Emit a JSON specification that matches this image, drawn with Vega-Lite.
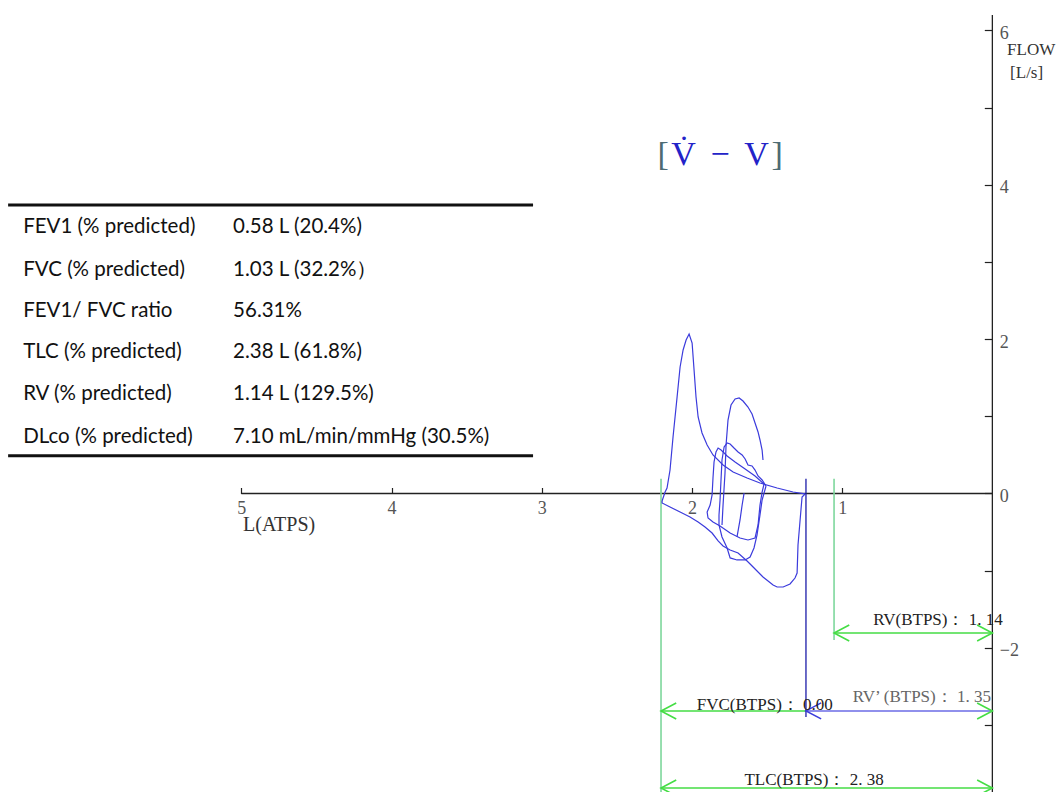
{
  "$schema": "https://vega.github.io/schema/vega-lite/v6.json",
  "width": 1061,
  "height": 792,
  "padding": 0,
  "autosize": {"type": "none"},
  "background": "white",
  "config": {"view": {"stroke": null}},
  "encoding": {
    "x": {
      "field": "v", "type": "quantitative",
      "scale": {"domain": [-0.457, 6.607], "reverse": true, "nice": false, "zero": false},
      "axis": {
        "orient": "bottom", "offset": -298.5, "values": [1, 2, 3, 4, 5], "format": "d",
        "domain": false, "grid": false, "title": null,
        "tickSize": -6, "tickColor": "#222", "tickWidth": 1.2,
        "labelPadding": 12, "labelFont": "Liberation Serif", "labelFontSize": 18,
        "labelColor": "#555", "labelFlush": false, "labelOverlap": false
      }
    },
    "y": {
      "field": "f", "type": "quantitative",
      "scale": {"domain": [-3.867, 6.393], "nice": false, "zero": false},
      "axis": {
        "orient": "right", "offset": -68.7, "values": [-3, -2, -1, 0, 1, 2, 3, 4, 5, 6], "format": "d",
        "domain": false, "grid": false, "title": null,
        "tickSize": -8, "tickColor": "#222", "tickWidth": 1.2,
        "labelPadding": 15, "labelOffset": 3, "labelFont": "Liberation Serif", "labelFontSize": 18,
        "labelColor": "#555", "labelFlush": false, "labelOverlap": false,
        "labelExpr": "datum.value % 2 === 0 ? datum.label : ''"
      }
    }
  },
  "layer": [
    {
      "data": {"values": [
        {"v": 5, "v2": 0, "f": 0, "f2": 0},
        {"v": 0, "v2": 0, "f": 6.198, "f2": -3.867}
      ]},
      "mark": {"type": "rule", "color": "#222222", "strokeWidth": 1.3},
      "encoding": {"x2": {"field": "v2"}, "y2": {"field": "f2"}}
    },
    {
      "data": {"values": [
        {"v": 6.553, "v2": 3.058, "f": 3.737, "f2": 3.737},
        {"v": 6.553, "v2": 3.058, "f": 0.489, "f2": 0.489}
      ]},
      "mark": {"type": "rule", "color": "#111111", "strokeWidth": 3.2},
      "encoding": {"x2": {"field": "v2"}, "y2": {"field": "f2"}}
    },
    {
      "data": {"values": [
        {"v": 2.206, "v2": 2.206, "f": 0.19, "f2": -3.867},
        {"v": 1.054, "v2": 1.054, "f": 0.19, "f2": -1.898}
      ]},
      "mark": {"type": "rule", "color": "#7ed79c", "strokeWidth": 1.6},
      "encoding": {"x2": {"field": "v2"}, "y2": {"field": "f2"}}
    },
    {
      "data": {"values": [
        {"v": 1.054, "v2": 0, "f": -1.807, "f2": -1.807},
        {"v": 2.206, "v2": 1.241, "f": -2.817, "f2": -2.817},
        {"v": 2.206, "v2": 0, "f": -3.815, "f2": -3.815}
      ]},
      "mark": {"type": "rule", "color": "#44dd44", "strokeWidth": 1.6},
      "encoding": {"x2": {"field": "v2"}, "y2": {"field": "f2"}}
    },
    {
      "data": {"values": [
        {"v": 1.241, "v2": 1.241, "f": 0.19, "f2": -2.895}
      ]},
      "mark": {"type": "rule", "color": "#1c1ca8", "strokeWidth": 1.3},
      "encoding": {"x2": {"field": "v2"}, "y2": {"field": "f2"}}
    },
    {
      "data": {"values": [
        {"v": 1.241, "v2": 0, "f": -2.817, "f2": -2.817}
      ]},
      "mark": {"type": "rule", "color": "#6b6be6", "strokeWidth": 1.5},
      "encoding": {"x2": {"field": "v2"}, "y2": {"field": "f2"}}
    },
    {
      "data": {"values": [
        {"seg": "fe", "ord": 1, "v": 2.199, "f": -0.097},
        {"seg": "fe", "ord": 2, "v": 2.179, "f": 0.019},
        {"seg": "fe", "ord": 3, "v": 2.166, "f": 0.071},
        {"seg": "fe", "ord": 4, "v": 2.146, "f": 0.304},
        {"seg": "fe", "ord": 5, "v": 2.126, "f": 0.732},
        {"seg": "fe", "ord": 6, "v": 2.099, "f": 1.25},
        {"seg": "fe", "ord": 7, "v": 2.079, "f": 1.639},
        {"seg": "fe", "ord": 8, "v": 2.059, "f": 1.859},
        {"seg": "fe", "ord": 9, "v": 2.039, "f": 1.988},
        {"seg": "fe", "ord": 10, "v": 2.019, "f": 2.066},
        {"seg": "fe", "ord": 11, "v": 1.999, "f": 1.949},
        {"seg": "fe", "ord": 12, "v": 1.986, "f": 1.6},
        {"seg": "fe", "ord": 13, "v": 1.973, "f": 1.25},
        {"seg": "fe", "ord": 14, "v": 1.959, "f": 0.991},
        {"seg": "fe", "ord": 15, "v": 1.933, "f": 0.784},
        {"seg": "fe", "ord": 16, "v": 1.899, "f": 0.628},
        {"seg": "fe", "ord": 17, "v": 1.86, "f": 0.499},
        {"seg": "fe", "ord": 18, "v": 1.793, "f": 0.369},
        {"seg": "fe", "ord": 19, "v": 1.726, "f": 0.278},
        {"seg": "fe", "ord": 20, "v": 1.633, "f": 0.201},
        {"seg": "fe", "ord": 21, "v": 1.547, "f": 0.136},
        {"seg": "fe", "ord": 22, "v": 1.433, "f": 0.071},
        {"seg": "fe", "ord": 23, "v": 1.327, "f": 0.019},
        {"seg": "fe", "ord": 24, "v": 1.247, "f": -0.006},
        {"seg": "in", "ord": 1, "v": 1.247, "f": -0.006},
        {"seg": "in", "ord": 2, "v": 1.267, "f": -0.045},
        {"seg": "in", "ord": 3, "v": 1.28, "f": -0.343},
        {"seg": "in", "ord": 4, "v": 1.294, "f": -0.667},
        {"seg": "in", "ord": 5, "v": 1.3, "f": -1.03},
        {"seg": "in", "ord": 6, "v": 1.314, "f": -1.095},
        {"seg": "in", "ord": 7, "v": 1.347, "f": -1.172},
        {"seg": "in", "ord": 8, "v": 1.393, "f": -1.211},
        {"seg": "in", "ord": 9, "v": 1.433, "f": -1.211},
        {"seg": "in", "ord": 10, "v": 1.46, "f": -1.185},
        {"seg": "in", "ord": 11, "v": 1.527, "f": -1.082},
        {"seg": "in", "ord": 12, "v": 1.593, "f": -0.952},
        {"seg": "in", "ord": 13, "v": 1.633, "f": -0.874},
        {"seg": "in", "ord": 14, "v": 1.693, "f": -0.771},
        {"seg": "in", "ord": 15, "v": 1.746, "f": -0.732},
        {"seg": "in", "ord": 16, "v": 1.793, "f": -0.68},
        {"seg": "in", "ord": 17, "v": 1.826, "f": -0.615},
        {"seg": "in", "ord": 18, "v": 1.866, "f": -0.512},
        {"seg": "in", "ord": 19, "v": 1.913, "f": -0.434},
        {"seg": "in", "ord": 20, "v": 1.959, "f": -0.369},
        {"seg": "in", "ord": 21, "v": 2.013, "f": -0.304},
        {"seg": "in", "ord": 22, "v": 2.079, "f": -0.24},
        {"seg": "in", "ord": 23, "v": 2.146, "f": -0.175},
        {"seg": "in", "ord": 24, "v": 2.199, "f": -0.123},
        {"seg": "in", "ord": 25, "v": 2.199, "f": -0.097},
        {"seg": "t1", "ord": 1, "v": 1.52, "f": 0.123},
        {"seg": "t1", "ord": 2, "v": 1.58, "f": 0.227},
        {"seg": "t1", "ord": 3, "v": 1.646, "f": 0.317},
        {"seg": "t1", "ord": 4, "v": 1.713, "f": 0.408},
        {"seg": "t1", "ord": 5, "v": 1.766, "f": 0.486},
        {"seg": "t1", "ord": 6, "v": 1.806, "f": 0.563},
        {"seg": "t1", "ord": 7, "v": 1.826, "f": 0.589},
        {"seg": "t1", "ord": 8, "v": 1.84, "f": 0.538},
        {"seg": "t1", "ord": 9, "v": 1.853, "f": 0.408},
        {"seg": "t1", "ord": 10, "v": 1.86, "f": 0.201},
        {"seg": "t1", "ord": 11, "v": 1.866, "f": -0.019},
        {"seg": "t1", "ord": 12, "v": 1.879, "f": -0.149},
        {"seg": "t1", "ord": 13, "v": 1.899, "f": -0.24},
        {"seg": "t1", "ord": 14, "v": 1.893, "f": -0.317},
        {"seg": "t1", "ord": 15, "v": 1.86, "f": -0.369},
        {"seg": "t1", "ord": 16, "v": 1.813, "f": -0.421},
        {"seg": "t1", "ord": 17, "v": 1.746, "f": -0.512},
        {"seg": "t1", "ord": 18, "v": 1.68, "f": -0.576},
        {"seg": "t1", "ord": 19, "v": 1.627, "f": -0.602},
        {"seg": "t1", "ord": 20, "v": 1.58, "f": -0.576},
        {"seg": "t1", "ord": 21, "v": 1.56, "f": -0.408},
        {"seg": "t1", "ord": 22, "v": 1.547, "f": -0.149},
        {"seg": "t1", "ord": 23, "v": 1.533, "f": 0.019},
        {"seg": "t1", "ord": 24, "v": 1.52, "f": 0.123},
        {"seg": "t2", "ord": 1, "v": 1.507, "f": 0.097},
        {"seg": "t2", "ord": 2, "v": 1.533, "f": 0.175},
        {"seg": "t2", "ord": 3, "v": 1.56, "f": 0.227},
        {"seg": "t2", "ord": 4, "v": 1.58, "f": 0.304},
        {"seg": "t2", "ord": 5, "v": 1.6, "f": 0.356},
        {"seg": "t2", "ord": 6, "v": 1.627, "f": 0.369},
        {"seg": "t2", "ord": 7, "v": 1.646, "f": 0.447},
        {"seg": "t2", "ord": 8, "v": 1.666, "f": 0.499},
        {"seg": "t2", "ord": 9, "v": 1.693, "f": 0.538},
        {"seg": "t2", "ord": 10, "v": 1.72, "f": 0.589},
        {"seg": "t2", "ord": 11, "v": 1.746, "f": 0.641},
        {"seg": "t2", "ord": 12, "v": 1.766, "f": 0.654},
        {"seg": "t2", "ord": 13, "v": 1.786, "f": 0.602},
        {"seg": "t2", "ord": 14, "v": 1.8, "f": 0.434},
        {"seg": "t2", "ord": 15, "v": 1.806, "f": 0.201},
        {"seg": "t2", "ord": 16, "v": 1.813, "f": -0.084},
        {"seg": "t2", "ord": 17, "v": 1.82, "f": -0.278},
        {"seg": "t2", "ord": 18, "v": 1.82, "f": -0.408},
        {"seg": "t2", "ord": 19, "v": 1.8, "f": -0.563},
        {"seg": "t2", "ord": 20, "v": 1.766, "f": -0.706},
        {"seg": "t2", "ord": 21, "v": 1.746, "f": -0.835},
        {"seg": "t2", "ord": 22, "v": 1.7, "f": -0.861},
        {"seg": "t2", "ord": 23, "v": 1.646, "f": -0.861},
        {"seg": "t2", "ord": 24, "v": 1.613, "f": -0.823},
        {"seg": "t2", "ord": 25, "v": 1.587, "f": -0.706},
        {"seg": "t2", "ord": 26, "v": 1.567, "f": -0.538},
        {"seg": "t2", "ord": 27, "v": 1.547, "f": -0.278},
        {"seg": "t2", "ord": 28, "v": 1.533, "f": -0.084},
        {"seg": "t2", "ord": 29, "v": 1.507, "f": 0.097},
        {"seg": "t3", "ord": 1, "v": 1.8, "f": -0.408},
        {"seg": "t3", "ord": 2, "v": 1.793, "f": -0.149},
        {"seg": "t3", "ord": 3, "v": 1.78, "f": 0.266},
        {"seg": "t3", "ord": 4, "v": 1.773, "f": 0.628},
        {"seg": "t3", "ord": 5, "v": 1.76, "f": 0.952},
        {"seg": "t3", "ord": 6, "v": 1.74, "f": 1.146},
        {"seg": "t3", "ord": 7, "v": 1.713, "f": 1.224},
        {"seg": "t3", "ord": 8, "v": 1.686, "f": 1.237},
        {"seg": "t3", "ord": 9, "v": 1.66, "f": 1.198},
        {"seg": "t3", "ord": 10, "v": 1.627, "f": 1.12},
        {"seg": "t3", "ord": 11, "v": 1.6, "f": 1.03},
        {"seg": "t3", "ord": 12, "v": 1.58, "f": 0.913},
        {"seg": "t3", "ord": 13, "v": 1.56, "f": 0.797},
        {"seg": "t3", "ord": 14, "v": 1.547, "f": 0.693},
        {"seg": "t3", "ord": 15, "v": 1.533, "f": 0.563},
        {"seg": "t3", "ord": 16, "v": 1.527, "f": 0.434},
        {"seg": "t4", "ord": 1, "v": 1.653, "f": 0.006},
        {"seg": "t4", "ord": 2, "v": 1.666, "f": -0.149},
        {"seg": "t4", "ord": 3, "v": 1.68, "f": -0.343},
        {"seg": "t4", "ord": 4, "v": 1.7, "f": -0.563}
      ]},
      "mark": {"type": "line", "color": "#3b3bdc", "strokeWidth": 1.2},
      "encoding": {
        "detail": {"field": "seg", "type": "nominal"},
        "order": {"field": "ord", "type": "quantitative"}
      }
    },
    {
      "data": {"values": [
        {"v": 1.054, "f": -1.807, "dir": "L"},
        {"v": 0, "f": -1.807, "dir": "R"},
        {"v": 2.206, "f": -2.817, "dir": "L"},
        {"v": 0, "f": -2.817, "dir": "R"},
        {"v": 2.206, "f": -3.815, "dir": "L"},
        {"v": 0, "f": -3.815, "dir": "R"}
      ]},
      "mark": {"type": "point", "filled": false, "stroke": "#44dd44", "strokeWidth": 1.6, "size": 256, "opacity": 1},
      "encoding": {
        "shape": {"field": "dir", "type": "nominal", "legend": null,
          "scale": {"domain": ["L", "R"], "range": ["M1.9,-1L0,0L1.9,1", "M-1.9,-1L0,0L-1.9,1"]}}
      }
    },
    {
      "data": {"values": [{"v": 1.241, "f": -2.817}]},
      "mark": {"type": "point", "filled": false, "stroke": "#3b3bdc", "strokeWidth": 1.5, "size": 256, "opacity": 1, "shape": "M1.9,-1L0,0L1.9,1"}
    },
    {
      "data": {"values": [
        {"t": "FEV1 (% predicted)", "v": 6.453, "f": 3.452},
        {"t": "FVC (% predicted)", "v": 6.453, "f": 2.895},
        {"t": "FEV1/ FVC ratio", "v": 6.453, "f": 2.364},
        {"t": "TLC (% predicted)", "v": 6.453, "f": 1.833},
        {"t": "RV (% predicted)", "v": 6.453, "f": 1.289},
        {"t": "DLco (% predicted)", "v": 6.453, "f": 0.732},
        {"t": "0.58 L (20.4%)", "v": 5.055, "f": 3.452},
        {"t": "1.03 L (32.2%）", "v": 5.055, "f": 2.895},
        {"t": "56.31%", "v": 5.055, "f": 2.364},
        {"t": "2.38 L (61.8%)", "v": 5.055, "f": 1.833},
        {"t": "1.14 L (129.5%)", "v": 5.055, "f": 1.289},
        {"t": "7.10 mL/min/mmHg (30.5%)", "v": 5.055, "f": 0.732}
      ]},
      "mark": {"type": "text", "align": "left", "baseline": "middle", "font": "Lato", "fontSize": 20.5, "color": "#111111"},
      "encoding": {"text": {"field": "t"}}
    },
    {
      "data": {"values": [
        {"t": "RV(BTPS)： 1. 14", "v": 0.362, "f": -1.639},
        {"t": "FVC(BTPS)： 0.00", "v": 1.515, "f": -2.74},
        {"t": "TLC(BTPS)： 2. 38", "v": 1.187, "f": -3.711}
      ]},
      "mark": {"type": "text", "align": "center", "baseline": "middle", "font": "Liberation Serif", "fontSize": 17, "color": "#222222"},
      "encoding": {"text": {"field": "t"}}
    },
    {
      "data": {"values": [
        {"t": "RV’ (BTPS)： 1. 35", "v": 0.469, "f": -2.636}
      ]},
      "mark": {"type": "text", "align": "center", "baseline": "middle", "font": "Liberation Serif", "fontSize": 17, "color": "#666666"},
      "encoding": {"text": {"field": "t"}}
    },
    {
      "data": {"values": [
        {"t": "L(ATPS)", "v": 4.989, "f": -0.408}
      ]},
      "mark": {"type": "text", "align": "left", "baseline": "middle", "font": "Liberation Serif", "fontSize": 20, "color": "#333333"},
      "encoding": {"text": {"field": "t"}}
    },
    {
      "data": {"values": [
        {"t": "FLOW", "v": -0.098, "f": 5.745},
        {"t": "[L/s]", "v": -0.118, "f": 5.447}
      ]},
      "mark": {"type": "text", "align": "left", "baseline": "middle", "font": "Liberation Serif", "fontSize": 17, "color": "#333333"},
      "encoding": {"text": {"field": "t"}}
    },
    {
      "data": {"values": [
        {"t": "[", "v": 2.192, "f": 4.385},
        {"t": "]", "v": 1.433, "f": 4.385}
      ]},
      "mark": {"type": "text", "align": "center", "baseline": "middle", "font": "Liberation Serif", "fontSize": 34, "color": "#4d6b73"},
      "encoding": {"text": {"field": "t"}}
    },
    {
      "data": {"values": [
        {"t": "V\u0307 \u2009\u2212\u2009 V", "v": 1.813, "f": 4.385}
      ]},
      "mark": {"type": "text", "align": "center", "baseline": "middle", "font": "Liberation Serif", "fontSize": 34, "color": "#2323c8"},
      "encoding": {"text": {"field": "t"}}
    }
  ]
}
